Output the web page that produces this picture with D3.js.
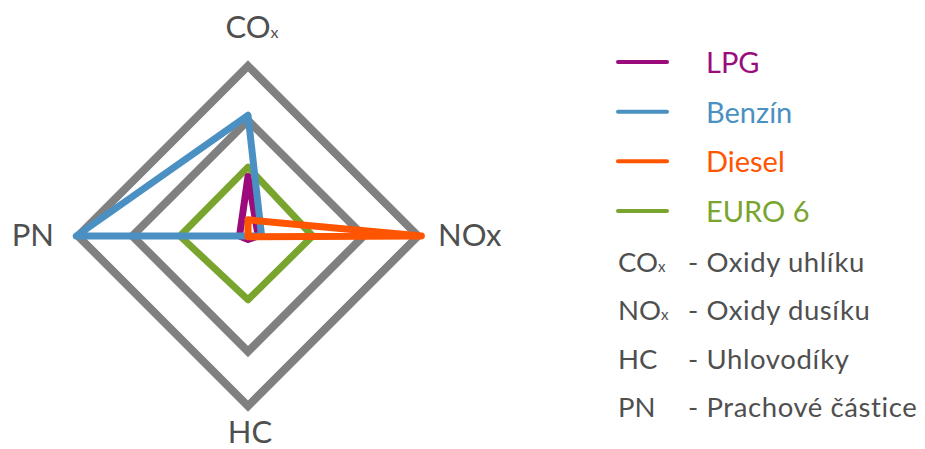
<!DOCTYPE html>
<html>
<head>
<meta charset="utf-8">
<script src="https://cdnjs.cloudflare.com/ajax/libs/d3/7.8.5/d3.min.js"></script>
<style>
  body { margin: 0; background: #fff; }
  svg { display: block; font-family: Lato, "Noto Sans", sans-serif; }
</style>
</head>
<body>
<svg id="chart" width="925" height="449"></svg>
<script>
// axes of the radar, clockwise from the top
var axes = ["CO", "NOx", "HC", "PN"];
var axisSubs = ["x", "", "", ""];

// values per series, in axis order (outer ring = 100)
var lpg = [35, 6, 2, 5];
var benzin = [71, 8, 0, 101];
var diesel = [9.5, 102, 0.5, 0];
var euro6 = [40.5, 38, 37.5, 40];

var seriesNames = ["LPG", "Benzín", "Diesel", "EURO 6"];
var seriesColors = ["#9b0b7c", "#4a90c2", "#ff5400", "#79a52f"];

var ringLevels = [68, 100];

var abbrevs = ["CO", "NO", "HC", "PN"];
var abbrevSubs = ["x", "x", "", ""];
var descriptions = ["- Oxidy uhlíku", "- Oxidy dusíku", "- Uhlovodíky", "- Prachové částice"];

var svg = d3.select("#chart");
var cx = 248, cy = 236, R = 170;

var r = d3.scaleLinear().domain([0, 100]).range([0, R]);
var ang = function(i) { return i * 2 * Math.PI / axes.length; };

var g = svg.append("g").attr("transform", "translate(" + cx + "," + cy + ")");

var radial = d3.lineRadial()
    .angle(function(d, i) { return ang(i); })
    .radius(function(d) { return r(d); })
    .curve(d3.curveLinearClosed);

// grid rings
g.selectAll(".ring")
    .data(ringLevels)
    .enter().append("path")
    .attr("class", "ring")
    .attr("d", function(v) { return radial(axes.map(function() { return v; })); })
    .attr("fill", "none")
    .attr("stroke", "#808080")
    .attr("stroke-width", 8)
    .attr("stroke-linejoin", "miter");

// series, drawn in the picture's stacking order
var series = [
    { name: "EURO 6", values: euro6, color: seriesColors[3] },
    { name: "LPG", values: lpg, color: seriesColors[0] },
    { name: "Benzín", values: benzin, color: seriesColors[1] },
    { name: "Diesel", values: diesel, color: seriesColors[2] }
];

g.selectAll(".series")
    .data(series)
    .enter().append("path")
    .attr("class", "series")
    .attr("d", function(d) { return radial(d.values); })
    .attr("fill", "none")
    .attr("stroke", function(d) { return d.color; })
    .attr("stroke-width", 7)
    .attr("stroke-linejoin", "round");

// axis labels
var labelPos = [
    { dx: 4, dy: -R - 28, anchor: "middle" },
    { dx: R + 20, dy: 10, anchor: "start" },
    { dx: 2, dy: R + 37, anchor: "middle" },
    { dx: -R - 24, dy: 10, anchor: "end" }
];
axes.forEach(function(a, i) {
    var p = labelPos[i];
    var t = g.append("text")
        .attr("x", p.dx)
        .attr("y", p.dy)
        .attr("text-anchor", p.anchor)
        .attr("font-size", 31)
        .attr("fill", "#4f4f4f");
    t.append("tspan").text(a);
    if (axisSubs[i]) t.append("tspan").attr("font-size", 16).text(axisSubs[i]);
});

// legend: series
var legendY = d3.scaleLinear().domain([0, 3]).range([62, 211]);
var leg = svg.selectAll(".leg")
    .data(seriesNames)
    .enter().append("g")
    .attr("class", "leg")
    .attr("transform", function(d, i) { return "translate(618," + legendY(i) + ")"; });

leg.append("line")
    .attr("x1", 0).attr("x2", 49)
    .attr("stroke", function(d, i) { return seriesColors[i]; })
    .attr("stroke-width", 4)
    .attr("stroke-linecap", "round");

leg.append("text")
    .attr("x", 88)
    .attr("y", 11)
    .attr("font-size", 29)
    .attr("fill", function(d, i) { return seriesColors[i]; })
    .text(function(d) { return d; });

// legend: abbreviations
var abbrY = d3.scaleLinear().domain([0, 3]).range([272, 417]);
var ab = svg.selectAll(".abbr")
    .data(abbrevs)
    .enter().append("g")
    .attr("class", "abbr")
    .attr("transform", function(d, i) { return "translate(618," + abbrY(i) + ")"; });

var abText = ab.append("text")
    .attr("font-size", 27.5)
    .attr("fill", "#4f4f4f");
abText.append("tspan").text(function(d) { return d; });
abText.append("tspan")
    .attr("font-size", 15)
    .text(function(d, i) { return abbrevSubs[i]; });

ab.append("text")
    .attr("x", 70)
    .attr("font-size", 27.5)
    .attr("letter-spacing", 0.6)
    .attr("fill", "#4f4f4f")
    .text(function(d, i) { return descriptions[i]; });
</script>
</body>
</html>
